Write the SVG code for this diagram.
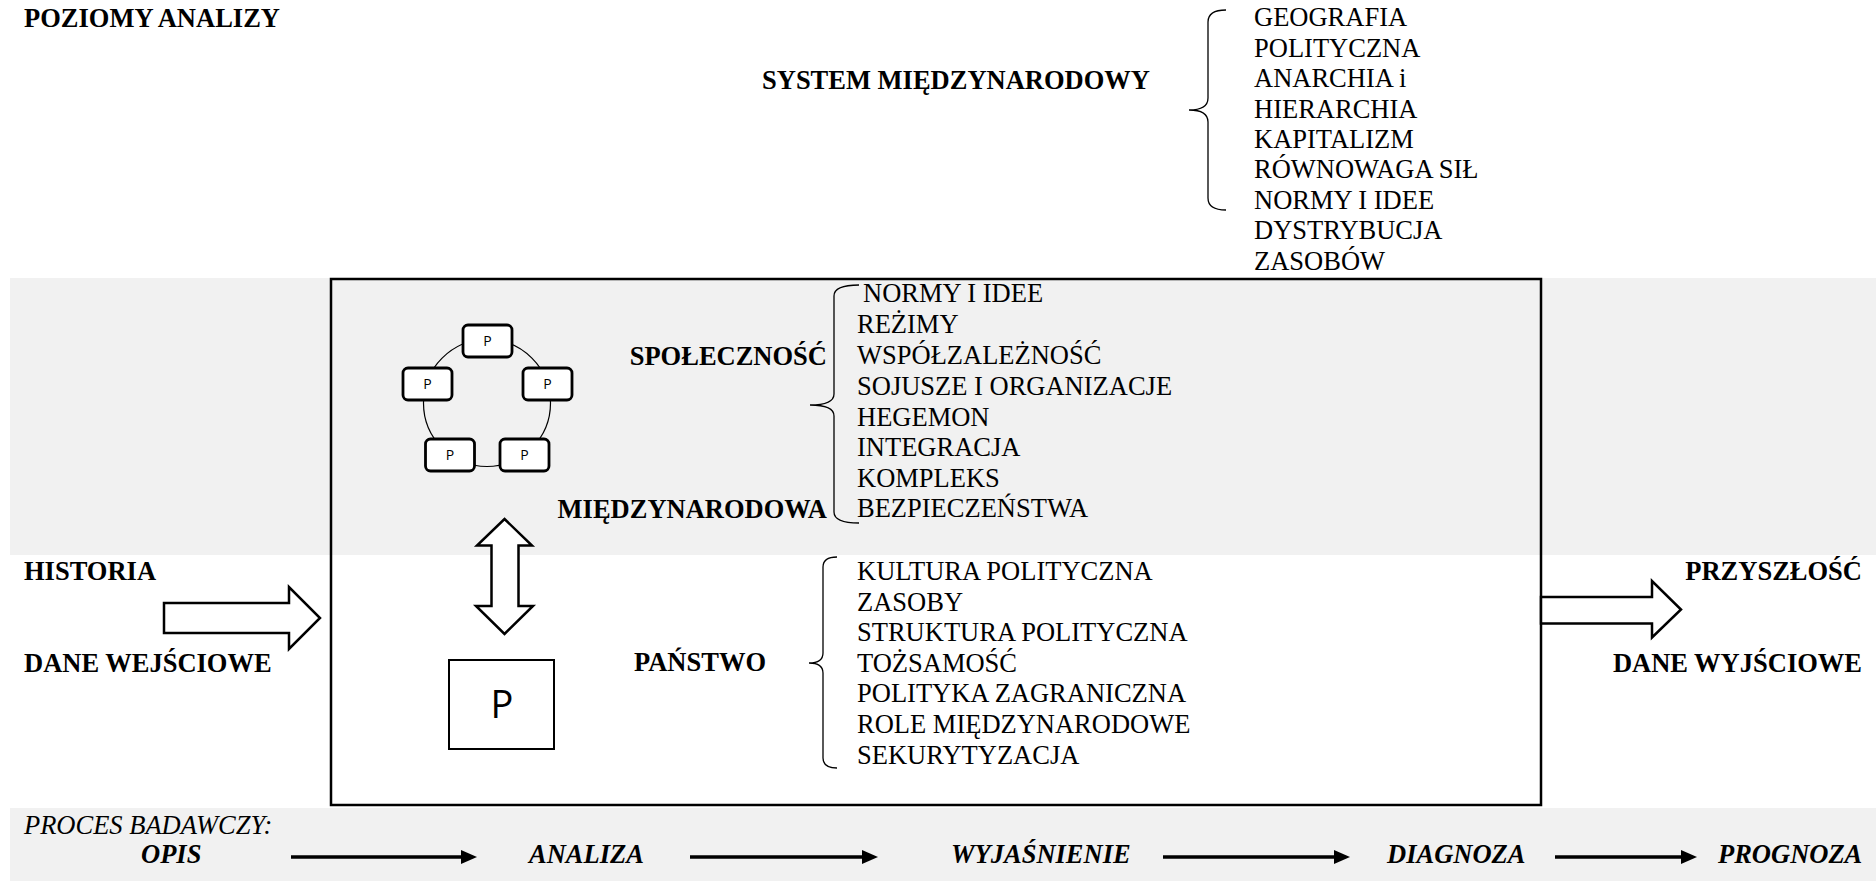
<svg xmlns="http://www.w3.org/2000/svg" width="1876" height="881" viewBox="0 0 1876 881">
<style>
text{font-family:"Liberation Serif","Times New Roman",serif;fill:#000}
.b{font-weight:bold;font-size:26.5px}
.r{font-size:26.5px}
.i{font-style:italic;font-size:26.5px}
.bi{font-style:italic;font-weight:bold;font-size:26.5px}
.band{fill:#f1f1f1}
.brace{fill:none;stroke:#000;stroke-width:1.3}
.sb{fill:#fff;stroke:#000;stroke-width:2.8}
text.ps{font-family:"Open Sans","Liberation Sans",sans-serif;font-size:14px;text-anchor:middle}
text.bp{font-family:"Open Sans","Liberation Sans",sans-serif;font-size:38px;text-anchor:middle}
.big{fill:#fff;stroke:#000;stroke-width:2.5;stroke-linejoin:miter}
.pl{stroke:#000;stroke-width:3.5}
</style>
<rect x="0" y="0" width="1876" height="881" fill="#fff"/>
<g id="bands">
<rect class="band" x="10" y="278" width="1866" height="277"/>
<rect class="band" x="10" y="808" width="1866" height="73"/>
</g>
<g id="title"><text class="b" x="24" y="27">POZIOMY ANALIZY</text></g>
<g id="system">
<text class="b" x="762" y="89">SYSTEM MIĘDZYNARODOWY</text>
<path class="brace" d="M1226,10 Q1208,10 1208,22 L1208,98 Q1208,110 1189,110 Q1208,110 1208,122 L1208,198 Q1208,210 1226,210"/>
<g class="items">
<text class="r" x="1254" y="26">GEOGRAFIA</text>
<text class="r" x="1254" y="56.5">POLITYCZNA</text>
<text class="r" x="1254" y="87">ANARCHIA i</text>
<text class="r" x="1254" y="117.5">HIERARCHIA</text>
<text class="r" x="1254" y="148">KAPITALIZM</text>
<text class="r" x="1254" y="178">RÓWNOWAGA SIŁ</text>
<text class="r" x="1254" y="208.5">NORMY I IDEE</text>
<text class="r" x="1254" y="239">DYSTRYBUCJA</text>
<text class="r" x="1254" y="269.5">ZASOBÓW</text>
</g>
</g>
<g id="main-box"><rect x="331" y="279" width="1210" height="526" fill="none" stroke="#000" stroke-width="2.5"/></g>
<g id="society-diagram">
<circle cx="487" cy="403" r="63.5" fill="none" stroke="#000" stroke-width="1.2"/>
<rect class="sb" x="463" y="325" width="49" height="32" rx="5"/><text class="ps" x="487.5" y="346">P</text>
<rect class="sb" x="403" y="368" width="49" height="32" rx="5"/><text class="ps" x="427.5" y="389">P</text>
<rect class="sb" x="523" y="368" width="49" height="32" rx="5"/><text class="ps" x="547.5" y="389">P</text>
<rect class="sb" x="425.5" y="439" width="49" height="32" rx="5"/><text class="ps" x="450" y="460">P</text>
<rect class="sb" x="500" y="439" width="49" height="32" rx="5"/><text class="ps" x="524.5" y="460">P</text>
</g>
<g id="society">
<text class="b" x="827" y="365" text-anchor="end">SPOŁECZNOŚĆ</text>
<text class="b" x="827" y="518" text-anchor="end">MIĘDZYNARODOWA</text>
<path class="brace" d="M859,285 Q834,285 834,296 L834,394 Q834,405 810,405 Q834,405 834,416 L834,512 Q834,523 859,523"/>
<text class="r" x="863" y="302">NORMY I IDEE</text>
<text class="r" x="857" y="333">REŻIMY</text>
<text class="r" x="857" y="364">WSPÓŁZALEŻNOŚĆ</text>
<text class="r" x="857" y="394.5">SOJUSZE I ORGANIZACJE</text>
<text class="r" x="857" y="425.5">HEGEMON</text>
<text class="r" x="857" y="456">INTEGRACJA</text>
<text class="r" x="857" y="486.5">KOMPLEKS</text>
<text class="r" x="857" y="517">BEZPIECZEŃSTWA</text>
</g>
<g id="state-node">
<rect x="449" y="660" width="105" height="89" fill="#fff" stroke="#000" stroke-width="2"/>
<text class="bp" x="502" y="718">P</text>
</g>
<g id="state">
<text class="b" x="634" y="671">PAŃSTWO</text>
<path class="brace" d="M837,557 Q823,557 823,567 L823,653 Q823,663 809,663 Q823,663 823,673 L823,758 Q823,768 837,768"/>
<text class="r" x="857" y="580">KULTURA POLITYCZNA</text>
<text class="r" x="857" y="610.5">ZASOBY</text>
<text class="r" x="857" y="641">STRUKTURA POLITYCZNA</text>
<text class="r" x="857" y="671.5">TOŻSAMOŚĆ</text>
<text class="r" x="857" y="702">POLITYKA ZAGRANICZNA</text>
<text class="r" x="857" y="732.5">ROLE MIĘDZYNARODOWE</text>
<text class="r" x="857" y="763.5">SEKURYTYZACJA</text>
</g>
<g id="input">
<text class="b" x="24" y="580">HISTORIA</text>
<text class="b" x="24" y="671.5">DANE WEJŚCIOWE</text>
</g>
<g id="output">
<text class="b" x="1862" y="580" text-anchor="end">PRZYSZŁOŚĆ</text>
<text class="b" x="1862" y="671.5" text-anchor="end">DANE WYJŚCIOWE</text>
</g>
<g id="process">
<text class="i" x="24" y="834">PROCES BADAWCZY:</text>
<text class="bi" x="141" y="863">OPIS</text>
<text class="bi" x="529" y="863">ANALIZA</text>
<text class="bi" x="951" y="863">WYJAŚNIENIE</text>
<text class="bi" x="1387" y="863">DIAGNOZA</text>
<text class="bi" x="1718" y="863">PROGNOZA</text>
</g>
<g id="connectors">
<polygon class="big" points="164,603 289,603 289,587 320,618 289,649 289,633 164,633"/>
<polygon class="big" points="1541,597 1652,597 1652,581 1681,609.5 1652,637.5 1652,623.5 1541,623.5"/>
<polygon class="big" stroke-width="2" points="504.5,519 532,545.5 518.5,545.5 518.5,606 533,606 504.5,634 476,606 491.5,606 491.5,545.5 477,545.5"/>
<line class="pl" x1="291" y1="857" x2="464" y2="857"/><polygon points="461,850 477,857 461,864"/>
<line class="pl" x1="690" y1="857" x2="865" y2="857"/><polygon points="862,850 878,857 862,864"/>
<line class="pl" x1="1163" y1="857" x2="1337" y2="857"/><polygon points="1334,850 1350,857 1334,864"/>
<line class="pl" x1="1555" y1="857" x2="1684" y2="857"/><polygon points="1681,850 1697,857 1681,864"/>
</g>
</svg>
